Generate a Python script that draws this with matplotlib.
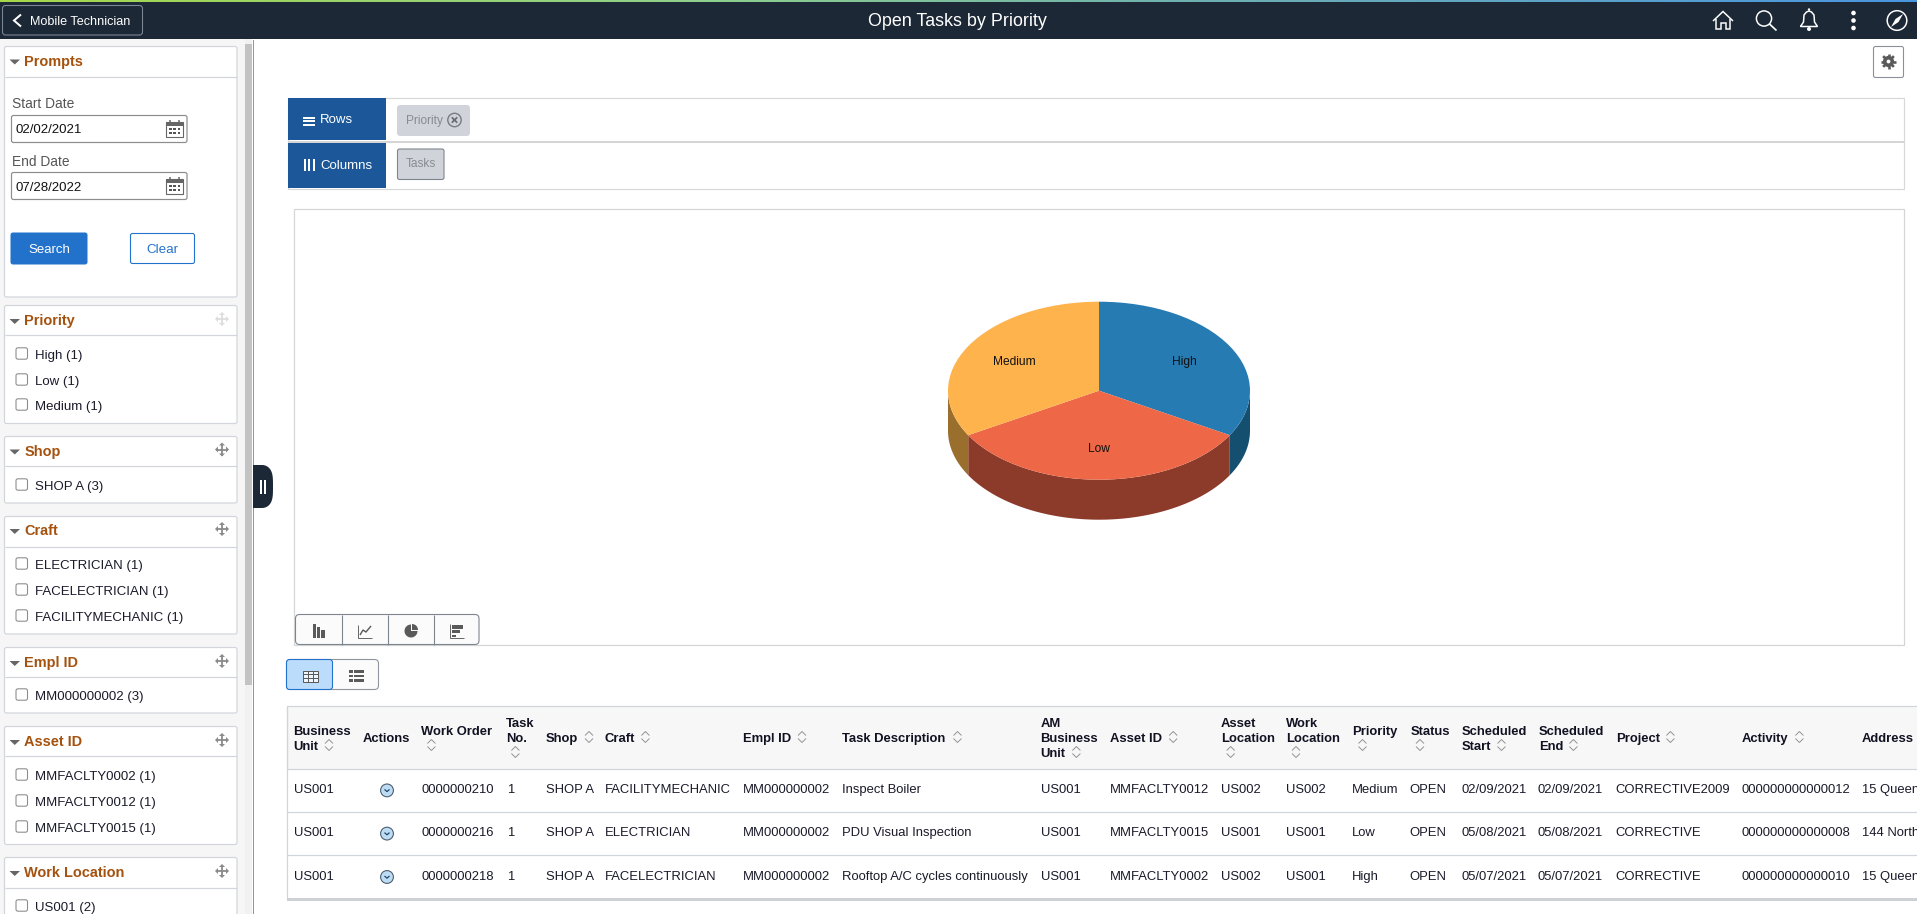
import numpy as np
import matplotlib
matplotlib.use("Agg")
import matplotlib.pyplot as plt
from matplotlib.patches import FancyBboxPatch, Rectangle, Circle, Polygon, Wedge
from matplotlib.colors import LinearSegmentedColormap

plt.rcParams['font.family'] = ['Liberation Sans', 'DejaVu Sans']

# ---------- data ----------
priorities = ["High", "Low", "Medium"]
task_counts = [1, 1, 1]
top_colors = ["#277bb3", "#ee6746", "#feb34d"]
side_colors = ["#154f70", "#8c3a2a", "#9a6f2e"]

business_unit = ["US001", "US001", "US001"]
work_order = ["0000000210", "0000000216", "0000000218"]
task_no = ["1", "1", "1"]
shop = ["SHOP A", "SHOP A", "SHOP A"]
craft = ["FACILITYMECHANIC", "ELECTRICIAN", "FACELECTRICIAN"]
empl_id = ["MM000000002", "MM000000002", "MM000000002"]
task_desc = ["Inspect Boiler", "PDU Visual Inspection", "Rooftop A/C cycles continuously"]
am_bu = ["US001", "US001", "US001"]
asset_id = ["MMFACLTY0012", "MMFACLTY0015", "MMFACLTY0002"]
asset_loc = ["US002", "US001", "US002"]
work_loc = ["US002", "US001", "US001"]
priority_col = ["Medium", "Low", "High"]
status = ["OPEN", "OPEN", "OPEN"]
sched_start = ["02/09/2021", "05/08/2021", "05/07/2021"]
sched_end = ["02/09/2021", "05/08/2021", "05/07/2021"]
project = ["CORRECTIVE2009", "CORRECTIVE", "CORRECTIVE"]
activity = ["000000000000012", "000000000000008", "000000000000010"]
address = ["15 Queen", "144 North", "15 Queen"]

priority_facet = ["High (1)", "Low (1)", "Medium (1)"]
shop_facet = ["SHOP A (3)"]
craft_facet = ["ELECTRICIAN (1)", "FACELECTRICIAN (1)", "FACILITYMECHANIC (1)"]
empl_facet = ["MM000000002 (3)"]
asset_facet = ["MMFACLTY0002 (1)", "MMFACLTY0012 (1)", "MMFACLTY0015 (1)"]
workloc_facet = ["US001 (2)"]

# ---------- canvas ----------
W, H = 1917, 914
fig = plt.figure(figsize=(W / 100, H / 100), dpi=100, facecolor="white")
ax = fig.add_axes([0, 0, 1, 1])
ax.set_axis_off()

PX = 0.72  # points per pixel at dpi 100
TITLE = "#a5520f"
LINE = "#d2d6dc"
BLUE = "#2272cc"
NAVY = "#1c5899"
DARK = "#1d2836"
ICON = "#5a5a5a"


def rect(x0, y0, x1, y1, fc="none", ec="none", lw=1.0, z=2):
    ax.add_patch(Rectangle((x0, y0), x1 - x0, y1 - y0, facecolor=fc, edgecolor=ec, linewidth=lw * PX, zorder=z))


def rbox(x0, y0, x1, y1, r=3, fc="none", ec="none", lw=1.0, z=2):
    ax.add_patch(FancyBboxPatch((x0 + r, y0 + r), x1 - x0 - 2 * r, y1 - y0 - 2 * r,
                                boxstyle=f"round,pad={r},rounding_size={r}", facecolor=fc,
                                edgecolor=ec, linewidth=lw * PX, zorder=z))


def line(xs, ys, c=ICON, lw=1.0, z=4, cap="butt"):
    ax.plot(xs, ys, color=c, linewidth=lw * PX, zorder=z, solid_capstyle=cap, solid_joinstyle="miter")


def txt(x, y, s, px=13, c="#1a1a2a", w="normal", ha="left", z=5):
    # y is the middle of the capital letters
    ax.text(x, y + 0.36 * px, s, fontsize=px * PX, color=c, fontweight=w, ha=ha, va="baseline", zorder=z)


def tri(x0, x1, y0, y1, c="#666666"):
    ax.add_patch(Polygon([(x0, y0), (x1, y0), ((x0 + x1) / 2, y1)], closed=True, facecolor=c, edgecolor="none", zorder=4))


def move_icon(cx, cy, c="#8a8a8a"):
    line([cx - 6, cx + 6], [cy, cy], c, 1.8)
    line([cx, cx], [cy - 6, cy + 6], c, 1.8)
    for dx, dy in [(1, 0), (-1, 0), (0, 1), (0, -1)]:
        tipx, tipy = cx + dx * 7, cy + dy * 7
        ax.add_patch(Polygon([(tipx, tipy),
                              (tipx - dx * 3 - dy * 3, tipy - dy * 3 - dx * 3),
                              (tipx - dx * 3 + dy * 3, tipy - dy * 3 + dx * 3)],
                             closed=True, facecolor=c, edgecolor="none", zorder=4))


def checkbox(cy):
    rbox(16, cy - 5.7, 27.5, cy + 5.7, r=2, fc="white", ec="#8e8e8e", lw=1.1)


def panel(y0, y1, yh, title, ty, items=(), iy=(), tx=24, move=None):
    rbox(4.5, y0, 237, y1, r=2, fc="white", ec=LINE, lw=1.2)
    line([5, 237], [yh, yh], LINE, 1.2, z=3)
    tri(9.5, 20, ty - 1, ty + 4)
    txt(tx, ty + 0.2, title, px=14.5, c=TITLE, w="bold")
    if move:
        move_icon(222, ty - 1, move)
    for s, y in zip(items, iy):
        checkbox(y - 1)
        txt(35, y, s, px=13.2)


def calendar(x0, y0):
    rect(x0, y0 + 2, x0 + 17, y0 + 17, fc="white", ec="#666666", lw=1.1, z=4)
    rect(x0, y0 + 2, x0 + 17, y0 + 6, fc="#666666", z=4)
    line([x0 + 4, x0 + 4], [y0, y0 + 3], "#666666", 1.5)
    line([x0 + 13, x0 + 13], [y0, y0 + 3], "#666666", 1.5)
    for r_ in (0, 1):
        for c_ in (0, 1, 2):
            rect(x0 + 3 + c_ * 4.4, y0 + 8 + r_ * 4, x0 + 5.5 + c_ * 4.4, y0 + 10 + r_ * 4, fc="#555555", z=5)


def sort_icon(cx, cy):
    line([cx - 4, cx, cx + 4], [cy - 1.5, cy - 5.5, cy - 1.5], "#8c8c8c", 0.9)
    line([cx - 4, cx, cx + 4], [cy + 1.5, cy + 5.5, cy + 1.5], "#8c8c8c", 0.9)


# top strip + header
cmap = LinearSegmentedColormap.from_list(
    "strip", [(0, "#a6d84a"), (0.365, "#8ed08c"), (0.626, "#6eb0b0"), (1, "#4a96e0")])
ax.imshow(np.linspace(0, 1, 512).reshape(1, -1), extent=(0, W, 2, 0), aspect="auto", cmap=cmap, zorder=1)
rect(0, 2, W, 39, fc=DARK, z=1)
rbox(2.5, 5.5, 142.5, 35, r=3, fc=DARK, ec="#7b8694", lw=1.1)
line([21, 14, 21], [14.5, 20.5, 26.5], "white", 2.0)
txt(30, 20.5, "Mobile Technician", px=12.6, c="white")
txt(957, 20, "Open Tasks by Priority", px=17.9, c="white", ha="center")

# header icons
WH = "white"
cx = 1723
line([cx - 10, cx, cx + 10], [21, 11.5, 21], WH, 1.5)
line([cx - 7, cx - 7, cx - 2.5, cx - 2.5, cx + 2.5, cx + 2.5, cx + 7, cx + 7],
     [19, 29, 29, 22.5, 22.5, 29, 29, 19], WH, 1.5)
ax.add_patch(Circle((1764, 18.5), 7.6, fill=False, ec=WH, lw=1.5 * PX, zorder=4))
line([1769.5, 1776.5], [24, 30.5], WH, 1.7)
cx = 1809
line([cx - 8.5, cx - 5.5, cx - 5, cx - 2.5, cx, cx + 2.5, cx + 5, cx + 5.5, cx + 8.5, cx - 8.5],
     [26.5, 22, 15, 12, 11, 12, 15, 22, 26.5, 26.5], WH, 1.5)
ax.add_patch(Circle((cx, 29), 2, fc=WH, ec="none", zorder=4))
ax.add_patch(Circle((cx, 9.5), 1.2, fc=WH, ec="none", zorder=4))
for y in (13, 20.5, 28):
    ax.add_patch(Circle((1853.5, y), 2.3, fc=WH, ec="none", zorder=4))
ax.add_patch(Circle((1897, 20.5), 9.8, fill=False, ec=WH, lw=1.5 * PX, zorder=4))
ax.add_patch(Polygon([(1903, 14), (1898.5, 22), (1891, 27), (1895.5, 19)], closed=True, fc=WH, ec="none", zorder=4))

# gear button
rbox(1873.5, 46.5, 1903.5, 77.5, r=2, fc="white", ec="#8a9099", lw=1.1)
ax.add_patch(Circle((1888.5, 61.5), 5.6, fc=ICON, ec="none", zorder=4))
for a in np.arange(0, 360, 45):
    ca, sa = np.cos(np.radians(a)), np.sin(np.radians(a))
    line([1888.5 + 4 * ca, 1888.5 + 7.6 * ca], [61.5 + 4 * sa, 61.5 + 7.6 * sa], ICON, 2.6)
ax.add_patch(Circle((1888.5, 61.5), 1.9, fc="white", ec="none", zorder=5))

# sidebar
rect(0, 39, 245, H, fc="#f6f6f6", z=1)
rect(245, 39, 252, H, fc="#f1f1f1", z=1)
rect(245, 44, 252, 685, fc="#c3c3c3", z=2)
rect(252.5, 40, 254, H, fc="#8f959c", z=2)

panel(46.5, 297, 76.5, "Prompts", 60.5)
txt(12, 103, "Start Date", px=13.8, c="#555555")
rbox(11.5, 115.5, 187, 142.5, r=2, fc="white", ec="#8d8d8d", lw=1.2)
txt(16, 128, "02/02/2021", px=13.2, c="#111111")
calendar(166, 120)
txt(12, 161, "End Date", px=13.8, c="#555555")
rbox(11.5, 172.5, 187, 199.5, r=2, fc="white", ec="#8d8d8d", lw=1.2)
txt(16, 186, "07/28/2022", px=13.2, c="#111111")
calendar(166, 177)
rbox(11, 233, 87, 264, r=2, fc=BLUE, ec=BLUE)
txt(49, 248.5, "Search", px=13.2, c="white", ha="center")
rbox(130.5, 233.5, 194.5, 263.5, r=2, fc="white", ec=BLUE, lw=1.1)
txt(162.5, 248.5, "Clear", px=13.4, c=BLUE, ha="center")

panel(305.5, 423.5, 335, "Priority", 320, priority_facet, [354.5, 380.5, 405.5], move="#dddddd")
panel(436.5, 503, 466, "Shop", 450.5, shop_facet, [485.5], tx=24.5, move="#8a8a8a")
panel(516.5, 634, 546.5, "Craft", 530, craft_facet, [564.5, 590.5, 616.5], move="#8a8a8a")
panel(647.5, 713, 677, "Empl ID", 662, empl_facet, [695.5], move="#8a8a8a")
panel(726.5, 844.5, 756, "Asset ID", 741, asset_facet, [775.5, 801.5, 827.5], move="#8a8a8a")
panel(857.5, 930, 888, "Work Location", 872, workloc_facet, [906.5], move="#8a8a8a")

# drawer handle: flat on the left, round on the right
t_ = np.radians(np.linspace(-90, 90, 40))
handle_x = np.concatenate([[253], 262 + 11 * np.cos(t_), [253]])
handle_y = np.concatenate([[465], 486.5 + 21.5 * (np.sign(np.sin(t_)) * np.abs(np.sin(t_)) ** 0.55), [508]])
ax.add_patch(Polygon(np.column_stack([handle_x, handle_y]), closed=True, facecolor=DARK, edgecolor="none", zorder=3))
rect(260, 480, 262.3, 494, fc="white", z=4)
rect(264, 480, 266.3, 494, fc="white", z=4)

# rows / columns bar
rect(287.5, 97.5, 1903.5, 189, fc="white", ec="#d8d8d8", lw=1.2)
rect(288, 141, 1903.5, 143, fc="#d5d5d5", z=3)
rect(288, 98, 386, 140, fc=NAVY, z=3)
rect(288, 143, 386, 188, fc=NAVY, z=3)
for y in (116.5, 120, 123.5):
    rect(303, y, 315, y + 2, fc="white", z=4)
for x in (303.5, 308, 312.5):
    rect(x, 159, x + 2.3, 171, fc="white", z=4)
txt(320, 118.5, "Rows", px=13.2, c="white")
txt(320, 164.5, "Columns", px=13.2, c="white")
rbox(397, 105, 470, 136, r=3, fc="#d0d4da")
txt(406, 120, "Priority", px=11.9, c="#878b92")
ax.add_patch(Circle((454.5, 120), 6.7, fill=False, ec="#777b82", lw=1.4 * PX, zorder=4))
line([451.8, 457.2], [117.3, 122.7], "#666a70", 1.7)
line([451.8, 457.2], [122.7, 117.3], "#666a70", 1.7)
rbox(397.5, 149, 444, 179.5, r=2, fc="#d0d4da", ec="#7d858e", lw=1.1)
txt(406, 163, "Tasks", px=11.9, c="#878b92")

# chart box
rect(294, 209, 1903.5, 645, fc="white", ec="#d5d5d5", lw=1.2)

# chart type buttons
rbox(295.5, 614.5, 479, 644.5, r=4, fc="#fbfbfb", ec="#7d858e", lw=1.1, z=3)
for x in (341.5, 387.5, 433.5):
    line([x, x], [614.5, 644.5], "#7d858e", 1.1)
for x0, x1, y0 in [(313, 316, 624), (317, 320, 627), (321, 325, 630)]:
    rect(x0, y0, x1, 638, fc=ICON, z=4)
line([358, 358, 372], [625, 638, 638], ICON, 0.9)
line([360, 363, 366, 371], [635, 630, 632, 626], ICON, 1.4)
ax.add_patch(Wedge((411, 631), 6.5, 0, 270, fc=ICON, ec="none", zorder=4))
ax.add_patch(Wedge((412, 630), 6, 270, 360, fc=ICON, ec="none", zorder=4))
line([450, 450, 464], [624, 638, 638], ICON, 0.9)
rect(452, 625, 463, 628.5, fc=ICON, z=4)
rect(452, 630, 460, 633, fc=ICON, z=4)
rect(452, 634.5, 456, 636.5, fc=ICON, z=4)

# view toggle
rbox(286.5, 659.5, 378.5, 689.5, r=4, fc="#fbfbfb", ec="#8f959c", lw=1.1, z=3)
rbox(286.5, 659.5, 332.5, 689.5, r=3, fc="#bbdcfb", ec=BLUE, lw=1.1, z=4)
rect(303, 670.5, 318, 681.5, fc="#eef5fb", ec=ICON, lw=1.0, z=5)
for x in (308, 313):
    line([x, x], [670.5, 681.5], ICON, 1.0, z=5)
for y in (674, 678):
    line([303, 318], [y, y], ICON, 1.0, z=5)
for y in (671.5, 676, 680.5):
    rect(349, y - 1.2, 352.5, y + 1.2, fc=ICON, z=4)
    rect(354, y - 1.2, 364, y + 1.2, fc=ICON, z=4)

# ---------- table ----------
rect(287, 706, W + 2, 768.5, fc="#f7f7f7", ec="#d0d5dc", lw=1.2)
line([287, 287], [706, 899], "#d0d5dc", 1.2, z=3)
for y in (812, 855):
    line([287, W], [y, y], "#d0d5dc", 1.2, z=3)
rect(287, 898, W, 900.5, fc="#cdd0d4", z=3)

header_lines = [["Business", "Unit"], ["Actions"], ["Work Order"], ["Task", "No."], ["Shop"], ["Craft"], ["Empl ID"],
                ["Task Description"], ["AM", "Business", "Unit"], ["Asset ID"], ["Asset", "Location"],
                ["Work", "Location"], ["Priority"], ["Status"], ["Scheduled", "Start"], ["Scheduled", "End"],
                ["Project"], ["Activity"], ["Address"]]
header_x = [293.6, 362.8, 421.4, 506, 546, 604.3, 743.2, 842, 1040.6, 1110, 1220.7, 1286.4, 1352, 1410.8, 1462,
            1538.8, 1616, 1741.9, 1862]
# first-line y of each header (two or three lines stacked downward, 15 px apart)
header_y = [730, 737, 730, 722, 737, 737, 737, 737, 722, 737, 722, 722, 730, 730, 730, 730, 737, 737, 737]
# sort icon position: (x, y) or None
sort_pos = [(329, 745), None, (431.4, 745), (515.4, 752), (589, 737), (645.4, 737), (802, 737), (957.5, 737),
            (1076.4, 752), (1173.2, 737), (1230.7, 752), (1296, 752), (1362.5, 745), (1420, 745), (1501.5, 745),
            (1573.4, 745), (1670.4, 737), (1799.4, 737), None]
for lines_, x, y0, sp in zip(header_lines, header_x, header_y, sort_pos):
    for i, s in enumerate(lines_):
        txt(x, y0 + 15 * i, s, px=13, c="#111122", w="bold")
    if sp:
        sort_icon(*sp)

row_y = [788.4, 831.6, 875]
columns = [business_unit, work_order, task_no, shop, craft, empl_id, task_desc, am_bu, asset_id, asset_loc, work_loc,
           priority_col, status, sched_start, sched_end, project, activity, address]
col_x = [293.6, 422, 506.8, 546, 605, 743.2, 842, 1040.6, 1110, 1221, 1286.4, 1352, 1409.8, 1461, 1538, 1615,
         1741.9, 1862]
for col, x in zip(columns, col_x):
    for s, y in zip(col, row_y):
        txt(x, y, s)
for y in row_y:
    ax.add_patch(Circle((387, y + 2), 6.4, fc="#bcdcf6", ec="#4d5d6e", lw=1.1 * PX, zorder=4))
    line([384.5, 387, 389.5], [y + 1, y + 3.2, y + 1], "#23405c", 1.2, z=5)

ax.set_xlim(0, W)
ax.set_ylim(H, 0)

# ---------- pie ----------
cx_px, cy_px, rx_px, ry_px, depth_px = 1099, 390.7, 151, 89, 40
left, right, up, down = 180, 180, 100, 150
pie_ax = fig.add_axes([(cx_px - left) / W, (H - cy_px - down) / H, (left + right) / W, (up + down) / H], zorder=5)
pie_ax.patch.set_alpha(0)

fractions = np.array(task_counts, dtype=float) / sum(task_counts)
bounds = np.concatenate([[0], np.cumsum(fractions)]) * 360
depth = depth_px / ry_px
for a0, a1, c in zip(bounds[:-1], bounds[1:], side_colors):
    lo, hi = max(a0, 90), min(a1, 270)
    if hi > lo:
        a = np.radians(np.linspace(lo, hi, 80))
        xs = np.sin(a)
        ys = np.cos(a)
        pie_ax.fill(np.concatenate([xs, xs[::-1]]), np.concatenate([ys, ys[::-1] - depth]), color=c, lw=0)

wedges, labels = pie_ax.pie(task_counts, labels=priorities, colors=top_colors, startangle=90, counterclock=False,
                            labeldistance=0.65, radius=1, wedgeprops=dict(linewidth=0),
                            textprops=dict(fontsize=12 * PX, color="#111111"))
for t in labels:
    t.set_ha("center")
    t.set_va("baseline")
    px_, py_ = t.get_position()
    t.set_position((px_, py_ - 3.3 / ry_px))
pie_ax.set_aspect("auto")
pie_ax.set_xlim(-left / rx_px, right / rx_px)
pie_ax.set_ylim(-down / ry_px, up / ry_px)
pie_ax.set_axis_off()

fig.savefig("out.png", dpi=100)
